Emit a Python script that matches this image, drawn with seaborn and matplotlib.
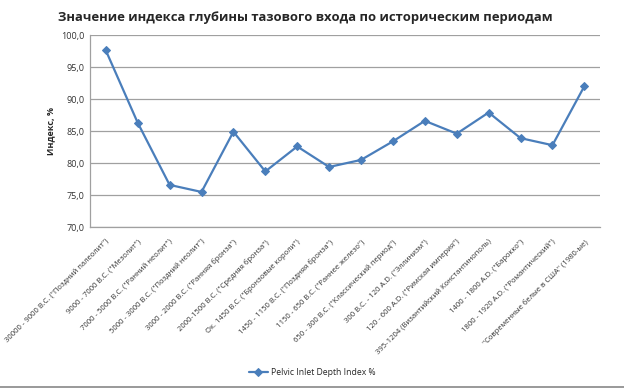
import matplotlib
matplotlib.use('Agg')
import matplotlib.pyplot as plt
import pandas as pd
import seaborn as sns

# Data
periods = [
    '30000 - 9000 B.C. ("Поздний палеолит")',
    '9000 - 7000 B.C. ("Мезолит")',
    '7000 - 5000 B.C. ("Ранний неолит")',
    '5000 - 3000 B.C. ("Поздний неолит")',
    '3000 - 2000 B.C. ("Ранняя бронза")',
    '2000-1500 B.C. ("Средняя бронза")',
    'Ок. 1450 B.C. ("Бронзовые короли")',
    '1450 - 1150 B.C. ("Поздняя бронза")',
    '1150 - 650 B.C. ("Раннее железо")',
    '650 - 300 B.C. ("Классический период")',
    '300 B.C. - 120 A.D. ("Эллинизм")',
    '120 - 600 A.D. ("Римская империя")',
    '395-1204 (Византийский Константинополь)',
    '1400 - 1800 A.D. ("Барокко")',
    '1800 - 1920 A.D. ("Романтический")',
    '"Современные белые в США" (1980-ые)',
]
index_values = [97.6, 86.3, 76.6, 75.5, 84.9, 78.7, 82.6, 79.4,
                80.5, 83.4, 86.6, 84.6, 87.9, 83.9, 82.8, 92.0]
y_ticks = [70, 75, 80, 85, 90, 95, 100]
series_name = 'Pelvic Inlet Depth Index %'

df = pd.DataFrame({'pos': range(len(periods)), 'value': index_values})

sns.set_style('white')
plt.rcParams['font.family'] = ['Open Sans', 'DejaVu Sans']

fig = plt.figure(figsize=(6.24, 3.89), dpi=100)
ax = fig.add_axes([0.144, 0.416, 0.818, 0.494])

blue = '#4a7ebb'
sns.lineplot(data=df, x='pos', y='value', ax=ax, color=blue, linewidth=1.6,
             marker='D', markersize=4, markeredgecolor=blue, label=series_name,
             legend=False)

ax.set_xlim(-0.5, len(periods) - 0.5)
ax.set_ylim(70, 100)
ax.set_yticks(y_ticks)
ax.set_yticklabels([f'{v:.1f}'.replace('.', ',') for v in y_ticks], fontsize=6.5, color='#333333')
ax.set_xticks(range(len(periods)))
ax.set_xticklabels(periods, rotation=45, ha='right', rotation_mode='anchor',
                   fontsize=5.5, color='#333333')
ax.tick_params(axis='x', length=0, pad=8)
ax.tick_params(axis='y', length=0, pad=4)
ax.yaxis.grid(True, color='#a0a0a0', linewidth=0.9)
for side in ['top', 'right']:
    ax.spines[side].set_visible(False)
for side in ['left', 'bottom']:
    ax.spines[side].set_color('#a0a0a0')
    ax.spines[side].set_linewidth(0.9)

ax.set_xlabel('')
ax.set_ylabel('Индекс, %', fontsize=6.5, fontweight='bold', labelpad=4)

fig.text(0.489, 0.955, 'Значение индекса глубины тазового входа по историческим периодам',
         ha='center', va='center', fontsize=9.4, fontweight='bold')

handles, labels = ax.get_legend_handles_labels()
fig.legend(handles, labels, loc='center', bbox_to_anchor=(0.5, 0.042), frameon=False,
           fontsize=6.2, handlelength=2.2, handletextpad=0.3)

# thin frame line at the bottom of the chart area
fig.add_artist(plt.Line2D([0, 1], [0.006, 0.006], color='#888888', linewidth=1.2,
                          transform=fig.transFigure))

fig.savefig('out.png', dpi=100)
